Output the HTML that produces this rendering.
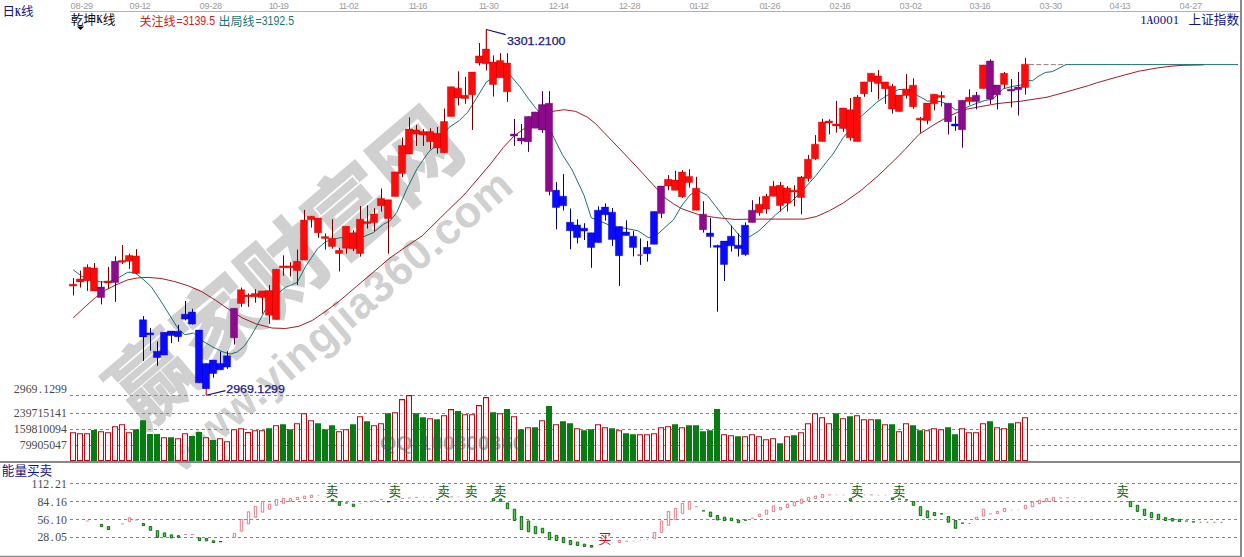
<!DOCTYPE html>
<html><head><meta charset="utf-8"><title>K-line chart</title>
<style>html,body{margin:0;padding:0;background:#fff;overflow:hidden}svg{display:block}text{font-family:"Liberation Sans",sans-serif}.se{font-family:"Liberation Serif",serif}.mo{font-family:"Liberation Mono",monospace}.cj{font-family:"Liberation Sans","Noto Sans CJK SC",sans-serif}</style></head><body>
<svg width="1244" height="557" viewBox="0 0 1244 557">
<rect width="1244" height="557" fill="#fff"/>
<g fill="#d0d0d0">
<text class="cj" transform="translate(141.6 430.7) rotate(-40.4)" stroke="#d0d0d0" stroke-width="1.4" font-size="87" font-weight="bold" textLength="430" lengthAdjust="spacingAndGlyphs">赢家财富网</text>
<text transform="translate(182.3 473.4) rotate(-40.4)" font-size="43.5" font-weight="bold" letter-spacing="0.8">www.yingjia360.com</text>
</g>
<g stroke="#a8a8a8" fill="none">
<path d="M70 11.5 H1240" stroke="#b0b0b0" stroke-width="1"/>
<path d="M1241 0 V557" stroke="#8a8a8a" stroke-width="2"/>
</g>
<g stroke="#858585" stroke-width="1" stroke-dasharray="3 3" fill="none">
<path d="M70 395.5 H1238"/>
<path d="M70 413.5 H1238"/>
<path d="M70 429.5 H1238"/>
<path d="M70 445.5 H1238"/>
<path d="M70 483.5 H1238"/>
<path d="M70 501.5 H1238"/>
<path d="M70 519.5 H1238"/>
<path d="M70 537.5 H1238"/>
</g>
<path d="M1029 64.6 H1066" stroke="#8a7070" stroke-width=".9" stroke-dasharray="5 2.3" fill="none"/>
<path d="M70.5 432.8h5V460.5h-5zM77.5 433.8h5V460.5h-5zM84.5 433.8h5V460.5h-5zM98.5 431.8h5V460.5h-5zM105.5 432.8h5V460.5h-5zM112.5 426.8h5V460.5h-5zM119.5 424.7h5V460.5h-5zM126.5 432.8h5V460.5h-5zM161.5 437.8h5V460.5h-5zM175.5 438.8h5V460.5h-5zM182.5 433.8h5V460.5h-5zM203.5 437.8h5V460.5h-5zM217.5 438.8h5V460.5h-5zM224.5 441.8h5V460.5h-5zM231.5 429.8h5V460.5h-5zM238.5 428.8h5V460.5h-5zM245.5 432.6h5V460.5h-5zM252.5 430.8h5V460.5h-5zM259.5 430.8h5V460.5h-5zM273.5 425.7h5V460.5h-5zM294.5 423.7h5V460.5h-5zM301.5 413.7h5V460.5h-5zM308.5 420.7h5V460.5h-5zM336.5 431.8h5V460.5h-5zM343.5 429.7h5V460.5h-5zM357.5 416.7h5V460.5h-5zM371.5 425.7h5V460.5h-5zM378.5 423.7h5V460.5h-5zM392.5 412.7h5V460.5h-5zM399.5 399.6h5V460.5h-5zM406.5 395.6h5V460.5h-5zM427.5 418.7h5V460.5h-5zM441.5 415.7h5V460.5h-5zM448.5 409.6h5V460.5h-5zM462.5 414.7h5V460.5h-5zM469.5 414.7h5V460.5h-5zM476.5 405.6h5V460.5h-5zM483.5 397.6h5V460.5h-5zM497.5 413.7h5V460.5h-5zM511.5 416.7h5V460.5h-5zM525.5 427.7h5V460.5h-5zM539.5 420.7h5V460.5h-5zM553.5 424.7h5V460.5h-5zM574.5 428.7h5V460.5h-5zM595.5 424.7h5V460.5h-5zM602.5 427.7h5V460.5h-5zM616.5 430.8h5V460.5h-5zM637.5 434.8h5V460.5h-5zM644.5 434.8h5V460.5h-5zM651.5 433.8h5V460.5h-5zM658.5 427.7h5V460.5h-5zM665.5 426.7h5V460.5h-5zM679.5 427.7h5V460.5h-5zM721.5 434.8h5V460.5h-5zM728.5 435.8h5V460.5h-5zM742.5 436.8h5V460.5h-5zM749.5 434.8h5V460.5h-5zM756.5 436.8h5V460.5h-5zM763.5 439.8h5V460.5h-5zM770.5 438.8h5V460.5h-5zM784.5 436.8h5V460.5h-5zM798.5 432.8h5V460.5h-5zM805.5 423.7h5V460.5h-5zM812.5 413.7h5V460.5h-5zM819.5 417.7h5V460.5h-5zM826.5 423.7h5V460.5h-5zM840.5 418.7h5V460.5h-5zM854.5 415.7h5V460.5h-5zM861.5 419.7h5V460.5h-5zM868.5 419.7h5V460.5h-5zM882.5 424.7h5V460.5h-5zM896.5 431.8h5V460.5h-5zM903.5 423.7h5V460.5h-5zM924.5 430.8h5V460.5h-5zM931.5 428.7h5V460.5h-5zM938.5 429.7h5V460.5h-5zM959.5 428.7h5V460.5h-5zM966.5 432.8h5V460.5h-5zM973.5 432.8h5V460.5h-5zM980.5 423.7h5V460.5h-5zM994.5 427.7h5V460.5h-5zM1001.5 428.7h5V460.5h-5zM1015.5 422.7h5V460.5h-5zM1022.5 417.7h5V460.5h-5z" fill="#fff4f4" fill-opacity=".74" stroke="#aa101a" stroke-width="1.05"/>
<path d="M91 429.9h6V461h-6zM133 429.3h6V461h-6zM140 420.2h6V461h-6zM147 433.9h6V461h-6zM154 433.9h6V461h-6zM168 437.3h6V461h-6zM189 435.9h6V461h-6zM196 431.9h6V461h-6zM210 439.9h6V461h-6zM266 428.2h6V461h-6zM280 424.2h6V461h-6zM287 429.2h6V461h-6zM315 423.2h6V461h-6zM322 429.2h6V461h-6zM329 425.2h6V461h-6zM350 424.2h6V461h-6zM364 421.2h6V461h-6zM385 413.2h6V461h-6zM413 413.2h6V461h-6zM420 417.2h6V461h-6zM434 419.2h6V461h-6zM455 411.1h6V461h-6zM490 412.2h6V461h-6zM504 409.1h6V461h-6zM518 429.2h6V461h-6zM532 427.2h6V461h-6zM546 406.1h6V461h-6zM560 421.2h6V461h-6zM567 423.2h6V461h-6zM581 430.3h6V461h-6zM588 429.2h6V461h-6zM609 428.2h6V461h-6zM623 433.3h6V461h-6zM630 434.3h6V461h-6zM672 424.2h6V461h-6zM686 425.2h6V461h-6zM693 425.2h6V461h-6zM700 431.3h6V461h-6zM707 430.3h6V461h-6zM714 409.1h6V461h-6zM735 436.3h6V461h-6zM777 443.3h6V461h-6zM791 435.3h6V461h-6zM833 413.2h6V461h-6zM847 416.2h6V461h-6zM875 419.2h6V461h-6zM889 424.2h6V461h-6zM910 425.2h6V461h-6zM917 430.3h6V461h-6zM945 427.2h6V461h-6zM952 434.3h6V461h-6zM987 421.2h6V461h-6zM1008 423.2h6V461h-6z" fill="#0a7a14"/>
<path d="M0 462 H1240" stroke="#888" stroke-width="2" fill="none"/>
<path d="M0 556.4 H1242" stroke="#8e8e8e" stroke-width="1.4" fill="none"/>
<text x="380.0" y="449.6" font-size="21" font-weight="bold" fill="#4a4a4a" fill-opacity=".45" textLength="144.5" lengthAdjust="spacingAndGlyphs">QQ:100800360</text>
<path d="M128.3 517.7h2.4v3.9h-2.4zM233.3 533.4h2.4v4h-2.4zM240.3 519.4h2.4v11.8h-2.4zM247.3 511.8h2.4v12.1h-2.4zM254.3 506.4h2.4v10.8h-2.4zM261.3 501.6h2.4v10.5h-2.4zM268.3 504.2h2.4v5h-2.4zM275.3 499.6h2.4v5.7h-2.4zM282.3 498.3h2.4v5h-2.4zM289.3 498.6h2.4v2.7h-2.4zM296.3 497.4h2.4v2.2h-2.4zM303.3 496.2h2.4v2.4h-2.4zM310.3 495.2h2.4v2.2h-2.4zM618.3 540.5h2.4v2h-2.4zM653.3 532.4h2.4v6h-2.4zM660.3 521h2.4v11.4h-2.4zM667.3 511.4h2.4v13.9h-2.4zM674.3 508.4h2.4v11h-2.4zM681.3 503.3h2.4v10.1h-2.4zM688.3 501.6h2.4v7.6h-2.4zM758.3 514.3h2.4v2.2h-2.4zM765.3 510.1h2.4v4.2h-2.4zM772.3 505.9h2.4v5.5h-2.4zM779.3 507.5h2.4v2.2h-2.4zM786.3 504.2h2.4v3.3h-2.4zM793.3 502h2.4v3.9h-2.4zM800.3 499.1h2.4v4.2h-2.4zM807.3 497.4h2.4v3.4h-2.4zM814.3 496.2h2.4v2.4h-2.4zM821.3 494.5h2.4v2.9h-2.4zM975.3 517.2h2.4v2.2h-2.4zM982.3 509.2h2.4v6.8h-2.4zM996.3 511.4h2.4v2h-2.4zM1003.3 508.4h2.4v3h-2.4zM1024.3 505.3h2.4v3.4h-2.4zM1031.3 502h2.4v4.7h-2.4zM1038.3 500.3h2.4v3.4h-2.4zM1045.3 498.6h2.4v2.7h-2.4zM1052.3 497.4h2.4v3.4h-2.4z" fill="#fff" stroke="#dc6e7e" stroke-width=".9"/>
<path d="M86 521h3M121 523.9h3M135 519.9h3M184 534.5h3M191 534.5h3M373 500.8h3M380 499.6h3M394 499.6h3M401 498.6h3M408 497.9h3M415 497.4h3M450 496.9h3M625 541.3h3M695 506.7h3M751 518.2h3M828 494.9h3M870 494.9h3M989 513.8h3M1059 497.9h3M1066 497.9h3" fill="none" stroke="#e08c98" stroke-width="1"/>
<path d="M100.3 524.4h2.4v2.2h-2.4zM107.3 526.6h2.4v2.9h-2.4zM142.3 523.6h2.4v2h-2.4zM149.3 526.6h2.4v3.7h-2.4zM156.3 530.7h2.4v6.7h-2.4zM163.3 532.9h2.4v3.8h-2.4zM170.3 534.9h2.4v3h-2.4zM177.3 535.7h2.4v1.7h-2.4zM198.3 537.9h2.4v2.6h-2.4zM205.3 538.4h2.4v2.4h-2.4zM212.3 540.8h2.4v1.7h-2.4zM331.3 499.6h2.4v1.7h-2.4zM338.3 501.6h2.4v3.7h-2.4zM352.3 504.2h2.4v2.2h-2.4zM492.3 498.6h2.4v2.2h-2.4zM499.3 499.1h2.4v2.2h-2.4zM506.3 503h2.4v5.7h-2.4zM513.3 509.2h2.4v11.3h-2.4zM520.3 516.5h2.4v13h-2.4zM527.3 521h2.4v10.7h-2.4zM534.3 526.6h2.4v7.1h-2.4zM541.3 528.3h2.4v4.6h-2.4zM548.3 532.4h2.4v7.2h-2.4zM555.3 535.4h2.4v5.1h-2.4zM562.3 537.4h2.4v5.3h-2.4zM569.3 540.5h2.4v4.2h-2.4zM576.3 542.1h2.4v3.4h-2.4zM583.3 544.2h2.4v2.2h-2.4zM590.3 545.5h2.4v1.7h-2.4zM709.3 512.1h2.4v4.4h-2.4zM716.3 515.5h2.4v4.4h-2.4zM723.3 517.2h2.4v3.3h-2.4zM730.3 518.2h2.4v2.3h-2.4zM737.3 520.2h2.4v2.5h-2.4zM849.3 498.6h2.4v2.2h-2.4zM891.3 497.9h2.4v1.7h-2.4zM912.3 501.6h2.4v3.7h-2.4zM919.3 506.7h2.4v8.8h-2.4zM926.3 510.9h2.4v6.8h-2.4zM933.3 512.6h2.4v2.9h-2.4zM947.3 516.5h2.4v5.7h-2.4zM954.3 520.5h2.4v7.8h-2.4zM1129.3 501.6h2.4v5.1h-2.4zM1136.3 505.3h2.4v6.1h-2.4zM1143.3 509.2h2.4v6.3h-2.4zM1150.3 512.6h2.4v5.1h-2.4zM1157.3 514.3h2.4v5.1h-2.4zM1164.3 517.7h2.4v2.8h-2.4zM1171.3 518.5h2.4v2.5h-2.4zM1178.3 519.4h2.4v2.2h-2.4z" fill="#5fc85f" stroke="#0b6b0b" stroke-width="1"/>
<path d="M219 541.6h3M345 503h3M387 501.6h3M436 499.1h3M702 510.9h3M744 520.2h3M898 499.1h3M905 499.9h3M940 513.8h3M961 523.2h3M1185 521h3M1192 521.9h3" fill="none" stroke="#0b6b0b" stroke-width="1.2"/>
<path d="M835.7 494.9h1.6M842.7 495h1.6M856.7 494.9h1.6M863.7 494.9h1.6M877.7 495.2h1.6M884.7 495.2h1.6M1010.7 510h1.6M1017.7 510h1.6M1073.7 497.9h1.6M1080.7 497.9h1.6M317.7 495.5h1.6M324.7 496.5h1.6M359.7 503.5h1.6M366.7 502h1.6M422.7 497h1.6M429.7 497.3h1.6M443.7 497.2h1.6M457.7 496.8h1.6M464.7 497h1.6M597.7 545h1.6M611.7 543h1.6M632.7 541h1.6M639.7 540h1.6M646.7 539.5h1.6" stroke="#e8a8b0" stroke-width=".9" fill="none"/>
<path d="M1199.7 522.2h1.6M1206.7 522.3h1.6M1213.7 522.3h1.6M1220.7 522.3h1.6M968.7 523.5h1.6" stroke="#2a7a2a" stroke-width=".9" fill="none"/>
<path d="M73.2 317.9 85.3 306.6 95.4 297.6 105.6 290 115.7 285 127.5 279.9 137.6 277.9 147.8 277.4 161.3 278.5 174.8 281.6 188.3 285.8 201.8 291.7 215.3 300.1 228.8 309.4 242.3 317.9 255.8 323.8 271.9 328 285.4 328.5 298.9 326.3 312.4 320.4 325.9 311.1 339.4 301 356.3 286.6 373.2 272.3 390 257.9 406.9 246.1 422.1 236 440.7 217.5 465 193.9 490.5 164 503.2 147.6 513.3 136.7 523.4 129.1 536.9 119 552.1 111.4 563.9 109.7 575.7 111.4 587.6 117.3 595 123.2 617 146 639.7 170 656.6 188.6 665 197.9 673.5 203.8 681.9 208.8 698.8 214.7 715.7 217.6 735.1 219.4 758.8 219.1 804.3 219.1 816.2 216.6 829.7 210.6 843.2 203 860 191.2 876.9 176.9 893.8 160.8 905 149.4 919.1 134.3 935 124.1 943.8 119 962.4 109.9 997.8 103.5 1020 101.3 1047 97.2 1066.8 91.8 1088.4 85.6 1097.4 82.6 1117.2 77 1138.8 71.2 1156.8 68 1171.2 66.2 1182.9 65.3 1203.6 64.8" fill="none" stroke="#9c1018" stroke-width=".95" stroke-linejoin="round"/>
<path d="M73.2 269.8 81.9 276.5 100.5 281.9 109 281.9 119.1 277.4 127.5 272.3 134.3 272.3 141 277.4 151.2 286.6 161.3 301.8 169.7 315.3 178.2 328.8 184.9 334.7 193.4 333 201.8 340.6 211.9 346.5 222 351.6 230.5 354.1 237.3 351.9 244 346.5 250.8 336.4 257.5 324.6 265.1 310.3 276.9 294.2 285.4 287.5 297.2 282.4 305.6 266.4 317.5 248.7 325.9 241.5 339.4 237.8 363 236.9 373.2 232.7 383.3 224.3 390 220.9 396.8 212.5 406.9 188.8 417.1 168.6 428.9 151.7 435.6 146 449.1 127.4 459.3 120.6 467.7 112.2 476.2 98.7 486.3 82.2 493 77.6 503.2 72.6 510.8 76 520 86.8 528.5 98.7 536.9 109.7 545.4 118.1 553.8 137.5 562.2 154.4 572.2 170 584 195.3 591.3 217.8 600.9 221.5 614.4 227.4 624.5 228.2 638 230.8 648.2 237.5 654.9 236.7 665 227.4 673.5 219.8 681.9 205.4 690.4 194.5 698.8 191.1 707.2 195.3 715.7 206.3 724.1 217.3 732.6 227.4 740.1 236.5 749.8 236.6 758.8 231 775.6 214.9 792.5 200.5 804.3 188.7 816.2 175.2 828 160 833 154 843.2 137.7 860 117.4 876.9 102.2 887.1 95.4 898.9 89.5 907.3 89.5 917.4 95.4 927.6 101 940.5 101.5 948.9 104.9 955.6 109.9 962.4 109.1 972.5 104.9 984.3 100.6 992.8 99 1002.9 88.8 1013 86.3 1023.2 84.6 1029 80.6 1032.6 80.6 1038 76.6 1045.2 72.5 1052.4 71.6 1065.9 64.6 1238 64.6" fill="none" stroke="#126868" stroke-width=".95" stroke-linejoin="round"/>
<path d="M73.5 277.9V295.4M80.5 270.6V287.5M87.5 264.4V290.9M94.5 263V290.9M108.5 266.9V289.2M122.5 245V263.9M129.5 253.7V268.9M136.5 249.2V274M241.5 287.5V306.9M248.5 293.4V306.9M255.5 289.2V302.7M262.5 290.9V313.6M269.5 285V323.8M276.5 269.3V319.6M283.5 255.4V275.7M290.5 262.2V276.5M297.5 249.5V285M304.5 209.9V260.1M311.5 216.2V227.6M318.5 218V237.8M325.5 233.5V249.5M332.5 219.2V248.7M339.5 247.8V271.4M346.5 226.3V253.7M353.5 230.2V251.2M360.5 206V256.6M367.5 205.4V228.5M374.5 208.2V231M381.5 188.5V211.6M388.5 199.8V253.7M395.5 171.9V196.4M402.5 137.5V177.3M409.5 117.3V154.1M416.5 124.9V146M423.5 129.1V146M430.5 128.2V149.3M437.5 127V153.6M444.5 108.5V152.7M451.5 86.8V116.4M458.5 71.4V105.4M465.5 76.8V103.8M472.5 72.1V129.9M479.5 43V65.5M486.5 29.2V70.5M493.5 55.4V96.5M500.5 53.2V77.7M507.5 53.2V101.8M668.5 175.1V190.3M675.5 170.8V190.3M682.5 170.1V197.9M689.5 169.2V187.6M696.5 176.8V210.2M759.5 196.8V215.7M766.5 193.8V213.7M773.5 181.1V196.3M780.5 181.9V211.5M787.5 186.2V211.5M794.5 185.3V206.4M801.5 176V214.4M808.5 154.9V181.6M815.5 135.1V159.8M822.5 118.8V141.6M829.5 119.2V134.5M836.5 100.9V132.6M843.5 108.1V131.8M850.5 98V140.7M857.5 95.1V141.6M864.5 81.9V96.8M871.5 73.2V92.1M878.5 70.1V99.7M885.5 81.9V103.9M892.5 84V113.7M899.5 95.1V111.5M906.5 74.1V98.5M913.5 78.3V108.8M920.5 116.9V132.8M927.5 103.1V124.2M934.5 94.2V110.4M941.5 91.4V106.5M969.5 89.2V104.9M983.5 64.9V88.5M1004.5 72V88.5M1025.5 57.9V94.7" stroke="#700000" stroke-width="1" fill="none"/>
<path d="M143.5 316.1V360.9M150.5 327.9V350.7M157.5 341.4V365.9M164.5 332.2V355M171.5 331V343.1M178.5 324.9V341.8M185.5 301V320.4M192.5 308.8V324.6M199.5 330.1V382.8M206.5 363.4V388.7M213.5 360V377.7M220.5 351.6V369.8M227.5 351.2V368.8M556.5 182.2V229.4M563.5 174.2V210.5M570.5 208.5V249.3M577.5 219.3V243.4M584.5 223.2V240M591.5 232.8V267.8M598.5 206.3V242.6M605.5 203.4V220.6M612.5 208V246M619.5 226.5V286M626.5 220.3V235.5M633.5 231.1V256.4M647.5 240.9V261.7M654.5 211.4V244.3M710.5 217.9V247.6M717.5 244.7V311.7M724.5 241.1V281M731.5 225.6V251.5M738.5 233.4V256.5M745.5 222.4V255.8M955.5 116.2V130.7" stroke="#000064" stroke-width="1" fill="none"/>
<path d="M101.5 281.2V304.4M115.5 256.3V301.8M234.5 308.3V344.5M514.5 119V146M521.5 124V144.3M528.5 116.4V151.9M535.5 111.9V128.2M542.5 91.1V132.8M549.5 91.1V195.3M661.5 186V218.1M703.5 201.2V232.6M752.5 200.2V222.4M948.5 103.2V134.5M962.5 100.3V147.7M976.5 91.9V109.4M990.5 59.3V104M997.5 85.1V109.4M1011.5 79V107.4M1018.5 71.9V115.5" stroke="#400040" stroke-width="1" fill="none"/>
<path d="M640.5 238.4V264.9" stroke="#000064" stroke-width="1" fill="none"/>
<path d="M69.4 284.2h7.2v1.9h-7.2zM76.4 279h7.2v2.9h-7.2zM83.4 267.2h7.2v13.5h-7.2zM90.4 268.1h7.2v22.8h-7.2zM104.4 281.1h7.2v1.9h-7.2zM118.4 260.4h7.2v1.9h-7.2zM125.4 255.4h7.2v5.9h-7.2zM132.4 255.9h7.2v17.6h-7.2zM237.4 289.7h7.2v13.8h-7.2zM244.4 294.9h7.2v1.9h-7.2zM251.4 293.4h7.2v3.4h-7.2zM258.4 290.9h7.2v6.7h-7.2zM265.4 290.4h7.2v24.9h-7.2zM272.4 269.3h7.2v50.3h-7.2zM279.4 265.9h7.2v1.9h-7.2zM286.4 265.9h7.2v1.9h-7.2zM293.4 261.3h7.2v9.3h-7.2zM300.4 220.1h7.2v40h-7.2zM307.4 216.2h7.2v3.3h-7.2zM314.4 218h7.2v14.7h-7.2zM321.4 236.6h7.2v1.9h-7.2zM328.4 238.3h7.2v8.2h-7.2zM335.4 250.3h7.2v3.1h-7.2zM342.4 226.3h7.2v21.9h-7.2zM349.4 232.7h7.2v16h-7.2zM356.4 219.2h7.2v34.2h-7.2zM363.4 221.7h7.2v1.9h-7.2zM370.4 214.1h7.2v8.5h-7.2zM377.4 198.6h7.2v7.1h-7.2zM384.4 199.8h7.2v18.6h-7.2zM391.4 171.9h7.2v24.5h-7.2zM398.4 145.5h7.2v28.1h-7.2zM405.4 129.1h7.2v25h-7.2zM412.4 129.9h7.2v4.2h-7.2zM419.4 131.6h7.2v3.4h-7.2zM426.4 131.6h7.2v10.1h-7.2zM433.4 133.3h7.2v14.7h-7.2zM440.4 121.5h7.2v31.2h-7.2zM447.4 86.8h7.2v29.6h-7.2zM454.4 88.2h7.2v9.7h-7.2zM461.4 95.2h7.2v3.4h-7.2zM468.4 72.1h7.2v22.6h-7.2zM475.4 55.9h7.2v7.1h-7.2zM482.4 49.1h7.2v14.7h-7.2zM489.4 62.1h7.2v22.4h-7.2zM496.4 60.4h7.2v17.3h-7.2zM503.4 63h7.2v28.8h-7.2zM664.4 179.3h7.2v6.7h-7.2zM671.4 180.1h7.2v10.2h-7.2zM678.4 172.1h7.2v24.6h-7.2zM685.4 176.4h7.2v6.2h-7.2zM692.4 188.2h7.2v22h-7.2zM755.4 204.2h7.2v8.5h-7.2zM762.4 196.3h7.2v12.7h-7.2zM769.4 186.2h7.2v10.1h-7.2zM776.4 185.3h7.2v20.3h-7.2zM783.4 187.9h7.2v15.1h-7.2zM790.4 190.2h7.2v1.9h-7.2zM797.4 177h7.2v20.5h-7.2zM804.4 159.2h7.2v19.4h-7.2zM811.4 144.2h7.2v14.5h-7.2zM818.4 122.1h7.2v19.5h-7.2zM825.4 121h7.2v1.9h-7.2zM832.4 124h7.2v1.9h-7.2zM839.4 108.1h7.2v20.4h-7.2zM846.4 109.8h7.2v28h-7.2zM853.4 97.1h7.2v44.5h-7.2zM860.4 81.9h7.2v11.9h-7.2zM867.4 73.2h7.2v8.4h-7.2zM874.4 76h7.2v7.6h-7.2zM881.4 81.9h7.2v6.8h-7.2zM888.4 86.2h7.2v22.8h-7.2zM895.4 95.1h7.2v16.4h-7.2zM902.4 88.9h7.2v6.6h-7.2zM909.4 85.2h7.2v21.5h-7.2zM916.4 118.2h7.2v1.9h-7.2zM923.4 103.1h7.2v17.4h-7.2zM930.4 94.2h7.2v9.5h-7.2zM937.4 95.5h7.2v1.9h-7.2zM965.4 97.3h7.2v4.2h-7.2zM979.4 64.9h7.2v23.6h-7.2zM1000.4 73.3h7.2v11.3h-7.2zM1021.4 64.2h7.2v23.3h-7.2z" fill="#ff0a0a" stroke="#c00000" stroke-width=".4"/>
<path d="M139.4 319.8h7.2v17.1h-7.2zM146.4 332.9h7.2v1.9h-7.2zM153.4 351.2h7.2v6.3h-7.2zM160.4 332.2h7.2v22.8h-7.2zM167.4 331h7.2v4.5h-7.2zM174.4 331.3h7.2v5.4h-7.2zM181.4 314.2h7.2v4.9h-7.2zM188.4 312h7.2v12h-7.2zM195.4 330.1h7.2v52.7h-7.2zM202.4 363.4h7.2v25.3h-7.2zM209.4 360h7.2v13.5h-7.2zM216.4 363.4h7.2v6.4h-7.2zM223.4 355.8h7.2v11.3h-7.2zM552.4 190.3h7.2v17.2h-7.2zM559.4 196.2h7.2v9.6h-7.2zM566.4 222.3h7.2v8.5h-7.2zM573.4 224.9h7.2v12.6h-7.2zM580.4 228.2h7.2v2.9h-7.2zM587.4 232.8h7.2v14.8h-7.2zM594.4 210.2h7.2v32.4h-7.2zM601.4 207.1h7.2v7.6h-7.2zM608.4 212.2h7.2v27.3h-7.2zM615.4 226.5h7.2v29.2h-7.2zM622.4 232.1h7.2v3.4h-7.2zM629.4 236.2h7.2v11.4h-7.2zM643.4 247.3h7.2v6.4h-7.2zM650.4 211.4h7.2v32.9h-7.2zM706.4 233.1h7.2v3.5h-7.2zM713.4 245.4h7.2v1.9h-7.2zM720.4 241.1h7.2v23.3h-7.2zM727.4 236.2h7.2v9.6h-7.2zM734.4 245.2h7.2v3.3h-7.2zM741.4 225.2h7.2v29.4h-7.2zM951.4 124.1h7.2v1.9h-7.2z" fill="#0a0aff" stroke="#0000b4" stroke-width=".4"/>
<path d="M97.4 287.1h7.2v10.5h-7.2zM111.4 261.3h7.2v21.1h-7.2zM230.4 308.3h7.2v29.4h-7.2zM510.4 134.1h7.2v1.9h-7.2zM517.4 138h7.2v2.9h-7.2zM524.4 116.4h7.2v25.3h-7.2zM531.4 111.9h7.2v16.3h-7.2zM538.4 104.6h7.2v25.3h-7.2zM545.4 103.3h7.2v88.3h-7.2zM657.4 186h7.2v27.6h-7.2zM699.4 214.2h7.2v15.5h-7.2zM748.4 210.3h7.2v12.1h-7.2zM944.4 103.2h7.2v18.5h-7.2zM958.4 100.3h7.2v29.4h-7.2zM972.4 95.2h7.2v6.3h-7.2zM986.4 61h7.2v38h-7.2zM993.4 85.1h7.2v9.6h-7.2zM1007.4 89.2h7.2v1.9h-7.2zM1014.4 87.1h7.2v2.6h-7.2z" fill="#8c0a8c" stroke="#640064" stroke-width=".4"/>
<path d="M637.7 254.6h4.6v1.1h-4.6z" fill="#c02050" stroke="#c02050" stroke-width=".4"/>
<path d="M486.3 29.4V49" stroke="#c01010" stroke-width="1.1" fill="none"/>
<path d="M486.3 29.5L505.7 34.6" stroke="#10107a" stroke-width="1.1" fill="none"/>
<path d="M206.2 388.7V395.2" stroke="#c01010" stroke-width="1.1" fill="none"/>
<path d="M206.2 395.2L225.5 390.6" stroke="#10107a" stroke-width="1.1" fill="none"/>
<text x="506.9" y="44.8" font-size="10.4" fill="#1a1a82" stroke="#1a1a82" stroke-width=".25" textLength="58.6" lengthAdjust="spacingAndGlyphs">3301.2100</text>
<text x="226.3" y="393.4" font-size="10.4" fill="#1a1a82" stroke="#1a1a82" stroke-width=".25" textLength="58.6" lengthAdjust="spacingAndGlyphs">2969.1299</text>
<g font-size="9.2" fill="#9c9c9c">
<text x="70.6 75.4 80.4 83.3 88.1" y="8.6">08-29</text>
<text x="129.6 134.4 139.4 141.4 145.5" y="8.6">09-12</text>
<text x="199.6 204.4 209.4 212.3 217.1" y="8.6">09-28</text>
<text x="268.7 272.8 277.7 279.8 283.8" y="8.6">10-19</text>
<text x="338.7 341.9 346.1 349 353.8" y="8.6">11-02</text>
<text x="408.7 411.9 416.1 418.1 422.2" y="8.6">11-16</text>
<text x="478.7 481.9 486.1 489 493.8" y="8.6">11-30</text>
<text x="548.7 552.8 557.7 559.8 563.8" y="8.6">12-14</text>
<text x="618.7 622.8 627.7 630.6 635.5" y="8.6">12-28</text>
<text x="689.6 693.6 697.7 699.8 703.8" y="8.6">01-12</text>
<text x="759.6 763.6 767.7 770.6 775.5" y="8.6">01-26</text>
<text x="829.6 834.4 839.4 841.4 845.5" y="8.6">02-16</text>
<text x="899.6 904.4 909.4 912.3 917.1" y="8.6">03-02</text>
<text x="969.6 974.4 979.4 981.4 985.5" y="8.6">03-16</text>
<text x="1039.6 1044.4 1049.4 1052.3 1057.1" y="8.6">03-30</text>
<text x="1109.6 1114.4 1119.4 1121.4 1125.5" y="8.6">04-13</text>
<text x="1179.6 1184.4 1189.4 1192.3 1197.1" y="8.6">04-27</text>
</g>
<g fill="#141482"><text class="cj" x="2.4" y="16" font-size="12.5">日</text><text class="se" x="18" y="15.6" font-size="12.6" text-anchor="middle" font-weight="bold" textLength="6" lengthAdjust="spacingAndGlyphs">K</text><text class="cj" x="21.1" y="16" font-size="12.5">线</text></g>
<g fill="#101010"><text class="cj" x="70.8" y="23.6" font-size="12.7">乾</text><text class="cj" x="83.5" y="23.6" font-size="12.7">坤</text><text class="se" x="99.5" y="23.2" font-size="12.8" text-anchor="middle" font-weight="bold" textLength="6.2" lengthAdjust="spacingAndGlyphs">K</text><text class="cj" x="102.7" y="23.6" font-size="12.7">线</text></g>
<path d="M76.9 26.4h7.2l-3.6 3.6z" fill="#000"/>
<g fill="#141478"><text class="se" x="1143.5" y="23.6" font-size="12.8" text-anchor="middle">1</text><text class="se" x="1150" y="23.6" font-size="12.8" text-anchor="middle" font-weight="bold" textLength="6.3" lengthAdjust="spacingAndGlyphs">A</text><text class="se" x="1156.5" y="23.6" font-size="12.8" text-anchor="middle">0</text><text class="se" x="1163" y="23.6" font-size="12.8" text-anchor="middle">0</text><text class="se" x="1169.5" y="23.6" font-size="12.8" text-anchor="middle">0</text><text class="se" x="1176" y="23.6" font-size="12.8" text-anchor="middle">1</text></g>
<g fill="#141478"><text class="cj" x="1188.6" y="24" font-size="12.6" textLength="50.4" lengthAdjust="spacingAndGlyphs">上证指数</text></g>
<g fill="#141482"><text class="cj" x="1.8" y="475" font-size="12.6" textLength="50.4" lengthAdjust="spacingAndGlyphs">能量买卖</text></g>
<text class="cj" x="139.6" y="26" font-size="12" fill="#c8231e" textLength="36" lengthAdjust="spacingAndGlyphs">关注线</text><text x="176.5" y="25.2" font-size="12.6" fill="#c8231e" textLength="38.6" lengthAdjust="spacingAndGlyphs">=3139.5</text>
<text class="cj" x="218.6" y="26" font-size="12" fill="#1e7474" textLength="36" lengthAdjust="spacingAndGlyphs">出局线</text><text x="255.5" y="25.2" font-size="12.6" fill="#1e7474" textLength="38.6" lengthAdjust="spacingAndGlyphs">=3192.5</text>
<g fill="#4a4a4a">
<text class="se" x="16.8" y="393.1" font-size="11.8" text-anchor="middle">2</text><text class="se" x="22.7" y="393.1" font-size="11.8" text-anchor="middle">9</text><text class="se" x="28.6" y="393.1" font-size="11.8" text-anchor="middle">6</text><text class="se" x="34.5" y="393.1" font-size="11.8" text-anchor="middle">9</text><text class="se" x="40.4" y="393.1" font-size="11.8" text-anchor="middle">.</text><text class="se" x="46.2" y="393.1" font-size="11.8" text-anchor="middle">1</text><text class="se" x="52.1" y="393.1" font-size="11.8" text-anchor="middle">2</text><text class="se" x="58" y="393.1" font-size="11.8" text-anchor="middle">9</text><text class="se" x="63.9" y="393.1" font-size="11.8" text-anchor="middle">9</text>
<text class="se" x="16.8" y="417.2" font-size="11.8" text-anchor="middle">2</text><text class="se" x="22.7" y="417.2" font-size="11.8" text-anchor="middle">3</text><text class="se" x="28.6" y="417.2" font-size="11.8" text-anchor="middle">9</text><text class="se" x="34.5" y="417.2" font-size="11.8" text-anchor="middle">7</text><text class="se" x="40.4" y="417.2" font-size="11.8" text-anchor="middle">1</text><text class="se" x="46.2" y="417.2" font-size="11.8" text-anchor="middle">5</text><text class="se" x="52.1" y="417.2" font-size="11.8" text-anchor="middle">1</text><text class="se" x="58" y="417.2" font-size="11.8" text-anchor="middle">4</text><text class="se" x="63.9" y="417.2" font-size="11.8" text-anchor="middle">1</text>
<text class="se" x="16.8" y="433.3" font-size="11.8" text-anchor="middle">1</text><text class="se" x="22.7" y="433.3" font-size="11.8" text-anchor="middle">5</text><text class="se" x="28.6" y="433.3" font-size="11.8" text-anchor="middle">9</text><text class="se" x="34.5" y="433.3" font-size="11.8" text-anchor="middle">8</text><text class="se" x="40.4" y="433.3" font-size="11.8" text-anchor="middle">1</text><text class="se" x="46.2" y="433.3" font-size="11.8" text-anchor="middle">0</text><text class="se" x="52.1" y="433.3" font-size="11.8" text-anchor="middle">0</text><text class="se" x="58" y="433.3" font-size="11.8" text-anchor="middle">9</text><text class="se" x="63.9" y="433.3" font-size="11.8" text-anchor="middle">4</text>
<text class="se" x="22.7" y="449.4" font-size="11.8" text-anchor="middle">7</text><text class="se" x="28.6" y="449.4" font-size="11.8" text-anchor="middle">9</text><text class="se" x="34.5" y="449.4" font-size="11.8" text-anchor="middle">9</text><text class="se" x="40.4" y="449.4" font-size="11.8" text-anchor="middle">0</text><text class="se" x="46.2" y="449.4" font-size="11.8" text-anchor="middle">5</text><text class="se" x="52.1" y="449.4" font-size="11.8" text-anchor="middle">0</text><text class="se" x="58" y="449.4" font-size="11.8" text-anchor="middle">4</text><text class="se" x="63.9" y="449.4" font-size="11.8" text-anchor="middle">7</text>
<text class="se" x="34.5" y="487.5" font-size="11.8" text-anchor="middle">1</text><text class="se" x="40.4" y="487.5" font-size="11.8" text-anchor="middle">1</text><text class="se" x="46.2" y="487.5" font-size="11.8" text-anchor="middle">2</text><text class="se" x="52.1" y="487.5" font-size="11.8" text-anchor="middle">.</text><text class="se" x="58" y="487.5" font-size="11.8" text-anchor="middle">2</text><text class="se" x="63.9" y="487.5" font-size="11.8" text-anchor="middle">1</text>
<text class="se" x="40.4" y="505.5" font-size="11.8" text-anchor="middle">8</text><text class="se" x="46.3" y="505.5" font-size="11.8" text-anchor="middle">4</text><text class="se" x="52.2" y="505.5" font-size="11.8" text-anchor="middle">.</text><text class="se" x="58.1" y="505.5" font-size="11.8" text-anchor="middle">1</text><text class="se" x="64" y="505.5" font-size="11.8" text-anchor="middle">6</text>
<text class="se" x="40.4" y="523.6" font-size="11.8" text-anchor="middle">5</text><text class="se" x="46.3" y="523.6" font-size="11.8" text-anchor="middle">6</text><text class="se" x="52.2" y="523.6" font-size="11.8" text-anchor="middle">.</text><text class="se" x="58.1" y="523.6" font-size="11.8" text-anchor="middle">1</text><text class="se" x="64" y="523.6" font-size="11.8" text-anchor="middle">0</text>
<text class="se" x="40.4" y="541.3" font-size="11.8" text-anchor="middle">2</text><text class="se" x="46.3" y="541.3" font-size="11.8" text-anchor="middle">8</text><text class="se" x="52.2" y="541.3" font-size="11.8" text-anchor="middle">.</text><text class="se" x="58.1" y="541.3" font-size="11.8" text-anchor="middle">0</text><text class="se" x="64" y="541.3" font-size="11.8" text-anchor="middle">5</text>
</g>
<g fill="#0a640a" font-size="12.6">
<text class="cj" x="325.8" y="496.2">卖</text>
<text class="cj" x="388.4" y="496.2">卖</text>
<text class="cj" x="437.3" y="496.2">卖</text>
<text class="cj" x="465" y="496.2">卖</text>
<text class="cj" x="493.8" y="496.2">卖</text>
<text class="cj" x="850.8" y="496.2">卖</text>
<text class="cj" x="892.8" y="496.2">卖</text>
<text class="cj" x="1116.3" y="496.2">卖</text>
</g>
<text class="cj" x="598.6" y="542.9" font-size="12.8" fill="#b41414">买</text>
</svg></body></html>
